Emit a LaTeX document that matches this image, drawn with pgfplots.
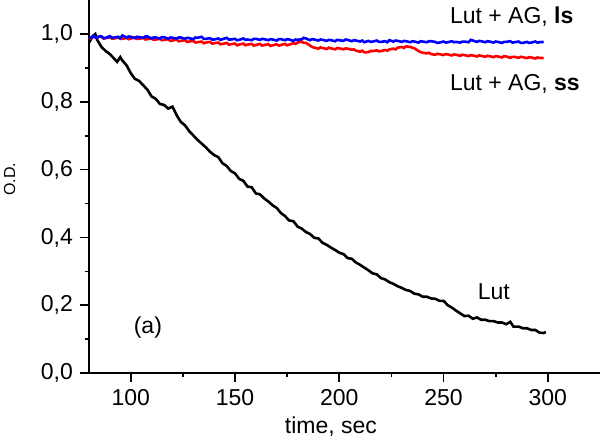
\documentclass[border=0pt]{standalone}
\usepackage{fontspec}
\setmainfont{Liberation Sans}
\usepackage{pgfplots}
\pgfplotsset{compat=1.18}

\pgfplotstableread{
x y
80 0.975
82 0.995
83 1.000
84 0.982
86 0.962
88 0.950
90 0.941
92 0.928
93.5 0.918
95 0.932
96 0.922
98 0.908
100 0.885
102 0.868
104 0.862
106 0.849
108 0.836
110 0.816
112 0.809
114 0.794
116 0.791
118 0.780
120 0.786
121 0.774
122 0.761
124 0.741
126 0.731
128 0.714
130 0.701
132 0.688
134 0.677
136 0.666
138 0.653
140 0.643
142 0.637
144 0.619
146 0.611
148 0.596
150 0.589
152 0.573
154 0.567
156 0.550
158 0.548
160 0.530
162 0.527
164 0.515
166 0.506
168 0.495
170 0.487
172 0.472
174 0.463
176 0.450
178 0.448
180 0.432
182 0.426
184 0.416
186 0.410
188 0.399
190 0.397
192 0.384
194 0.378
196 0.370
198 0.363
200 0.355
202 0.351
204 0.339
206 0.337
208 0.326
210 0.319
212 0.311
214 0.303
216 0.294
218 0.291
220 0.280
222 0.276
224 0.268
226 0.263
228 0.256
230 0.251
232 0.245
234 0.242
236 0.234
238 0.232
240 0.225
242 0.225
244 0.220
246 0.219
248 0.213
250 0.213
252 0.200
254 0.193
256 0.184
258 0.176
260 0.168
262 0.169
264 0.160
266 0.164
268 0.157
270 0.157
272 0.153
274 0.153
276 0.149
278 0.149
280 0.144
282 0.151
283.5 0.137
286 0.137
288 0.132
290 0.132
292 0.127
294 0.127
296 0.119
298 0.118
299 0.121
}\lut

\pgfplotstableread{
x y
80 0.991
81 0.989
82 0.995
83 0.990
84 0.990
85 0.994
86 0.993
87 0.988
88 0.989
90 0.994
91 0.989
92 0.990
94 0.992
95 0.988
96 0.996
98 0.990
99 0.993
100 0.992
102 0.988
103 0.992
104 0.991
106 0.989
107 0.993
108 0.993
110 0.987
111 0.990
112 0.990
114 0.987
115 0.991
116 0.991
118 0.986
119 0.990
120 0.989
122 0.987
123 0.990
124 0.990
126 0.986
127 0.989
128 0.988
130 0.985
131 0.990
132 0.989
134 0.992
135 0.986
136 0.986
138 0.988
139 0.984
140 0.984
142 0.987
143 0.983
144 0.985
146 0.989
147 0.984
148 0.984
150 0.986
151 0.982
152 0.983
154 0.987
155 0.983
156 0.984
158 0.982
159 0.986
160 0.986
162 0.983
163 0.986
164 0.985
166 0.982
167 0.985
168 0.984
170 0.981
171 0.985
172 0.985
174 0.982
175 0.985
176 0.984
178 0.980
179 0.984
180 0.983
182 0.985
183 0.989
184 0.987
186 0.982
187 0.985
188 0.984
190 0.981
191 0.984
192 0.983
194 0.980
195 0.983
196 0.982
198 0.979
199 0.983
200 0.982
202 0.980
203 0.984
204 0.983
206 0.979
207 0.982
208 0.981
210 0.978
211 0.981
212 0.976
214 0.980
215 0.977
216 0.978
218 0.981
219 0.977
220 0.977
222 0.979
223 0.976
224 0.982
226 0.978
227 0.981
228 0.980
230 0.977
231 0.980
232 0.979
234 0.976
235 0.979
236 0.978
238 0.975
239 0.979
240 0.978
242 0.976
243 0.979
244 0.979
246 0.977
247 0.974
248 0.975
250 0.978
251 0.975
252 0.976
254 0.979
255 0.976
256 0.977
258 0.975
259 0.978
260 0.978
262 0.976
263 0.983
264 0.981
266 0.977
267 0.980
268 0.979
270 0.976
271 0.979
272 0.978
274 0.975
275 0.978
276 0.977
278 0.974
279 0.977
280 0.977
282 0.979
283 0.975
284 0.976
286 0.978
287 0.974
288 0.974
290 0.977
291 0.974
292 0.975
294 0.978
295 0.975
296 0.976
298 0.977
}\lutls

\pgfplotstableread{
x y
80 0.990
81 0.987
82 0.994
83 0.990
84 0.989
85 0.993
86 0.992
87 0.987
88 0.988
90 0.991
91 0.987
92 0.987
94 0.990
95 0.986
96 0.986
98 0.989
99 0.985
100 0.987
102 0.990
103 0.986
104 0.986
106 0.989
107 0.984
108 0.985
110 0.988
111 0.983
112 0.984
114 0.986
115 0.982
116 0.983
118 0.985
119 0.980
120 0.981
122 0.984
123 0.979
124 0.980
126 0.982
127 0.977
128 0.978
130 0.980
131 0.975
132 0.976
134 0.978
135 0.973
136 0.975
138 0.977
139 0.972
140 0.973
142 0.975
143 0.970
144 0.971
146 0.974
147 0.969
148 0.970
150 0.972
151 0.967
152 0.969
154 0.972
155 0.967
156 0.969
158 0.971
159 0.966
160 0.968
162 0.971
163 0.966
164 0.968
166 0.970
167 0.965
168 0.967
170 0.970
171 0.966
172 0.968
174 0.971
175 0.967
176 0.969
178 0.973
179 0.971
180 0.975
182 0.978
183 0.974
184 0.974
186 0.966
187 0.962
188 0.960
190 0.957
191 0.961
192 0.959
194 0.956
195 0.960
196 0.958
198 0.955
199 0.959
200 0.958
202 0.955
203 0.958
204 0.957
206 0.954
207 0.955
208 0.951
210 0.948
211 0.951
212 0.946
214 0.947
215 0.950
216 0.950
218 0.952
219 0.949
220 0.950
222 0.953
223 0.951
224 0.955
226 0.957
227 0.955
228 0.960
230 0.962
231 0.959
232 0.964
234 0.962
235 0.960
236 0.958
238 0.950
239 0.947
240 0.945
242 0.943
243 0.945
244 0.941
246 0.939
247 0.942
248 0.941
250 0.938
251 0.941
252 0.940
254 0.937
255 0.940
256 0.939
258 0.936
259 0.939
260 0.938
262 0.935
263 0.938
264 0.937
266 0.934
267 0.937
268 0.936
270 0.933
271 0.936
272 0.935
274 0.932
275 0.935
276 0.934
278 0.931
279 0.935
280 0.934
282 0.930
283 0.933
284 0.933
286 0.930
287 0.933
288 0.932
290 0.929
291 0.932
292 0.931
294 0.928
295 0.931
296 0.930
298 0.929
}\lutss

\begin{document}
\begin{tikzpicture}
\begin{axis}[
    at={(44.5pt,31.5pt)}, anchor=south west,
    scale only axis,
    width=255.5pt, height=186.4pt,
    xmin=80, xmax=325,
    ymin=0, ymax=1.1,
    axis x line=bottom, axis y line=left,
    axis line style={-, line width=0.9pt},
    tick align=outside,
    major tick length=4.5pt, minor tick length=2.2pt,
    every tick/.style={black, line width=0.8pt},
    xtick={100,150,200,250,300},
    ytick={0,0.2,0.4,0.6,0.8,1.0},
    minor x tick num=1, minor y tick num=1,
    tick label style={font=\fontsize{11.5}{13}\selectfont},
    /pgf/number format/assume math mode=true,
    yticklabel style={/pgf/number format/.cd, use comma, fixed, fixed zerofill, precision=1},
    xlabel={time, sec},
    xlabel style={font=\fontsize{11.5}{13}\selectfont, at={(rel axis cs:0.4736,0)}, anchor=base, yshift=-30pt},
    ylabel={O.D.},
    ylabel style={font=\fontsize{8}{9}\selectfont, at={(rel axis cs:-0.1448,0.52)}, rotate=0, anchor=base},
    clip=false,
]
\addplot[black, line width=1.3pt] table[x=x, y=y] {\lut};
\addplot[red, line width=1.3pt] table[x=x, y=y] {\lutss};
\addplot[blue, line width=1.3pt] table[x=x, y=y] {\lutls};
\node[anchor=base west, font=\fontsize{11.5}{13}\selectfont] at (axis cs:249.7,1.030) {Lut + AG, \textbf{ls}};
\node[anchor=base west, font=\fontsize{11.5}{13}\selectfont] at (axis cs:249.7,0.833) {Lut + AG, \textbf{ss}};
\node[anchor=base west, font=\fontsize{11.5}{13}\selectfont] at (axis cs:263,0.217) {Lut};
\node[anchor=base west, font=\fontsize{11.5}{13}\selectfont] at (axis cs:98.1,0.116) {(a)};
\end{axis}
\pgfresetboundingbox
\useasboundingbox (0,0) rectangle (300pt,218pt);
\end{tikzpicture}
\end{document}
